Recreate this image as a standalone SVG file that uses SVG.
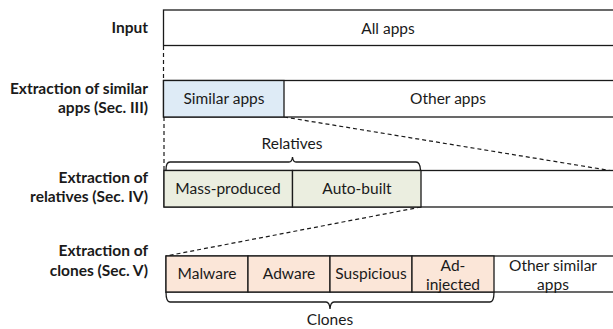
<svg xmlns="http://www.w3.org/2000/svg" width="613" height="329" viewBox="0 0 613 329">
<style>
.box{stroke:#1a1a1a;stroke-width:1.3;fill:#fff}
.blue{fill:#deebf6}
.green{fill:#ebeee0}
.peach{fill:#fbe6d8}
.t{font-family:Lato,"Open Sans",sans-serif;font-size:15.5px;fill:#1a1a1a;text-anchor:middle}
.lbl{font-family:Lato,"Open Sans",sans-serif;font-size:15.5px;font-weight:bold;fill:#1a1a1a;text-anchor:end}
.dash{stroke:#1a1a1a;stroke-width:1.2;stroke-dasharray:4 3;fill:none}
.br{stroke:#1a1a1a;stroke-width:1.3;fill:none}
</style>
<rect width="613" height="329" fill="#fff"/>
<g id="labels">
<text class="lbl" x="148" y="33">Input</text>
<text class="lbl" x="148" y="93.5">Extraction of similar</text>
<text class="lbl" x="148" y="112.5">apps (Sec. III)</text>
<text class="lbl" x="148" y="182.5">Extraction of</text>
<text class="lbl" x="148" y="201.5">relatives (Sec. IV)</text>
<text class="lbl" x="148" y="256">Extraction of</text>
<text class="lbl" x="148" y="275.5">clones (Sec. V)</text>
</g>
<g id="connectors">
<line class="dash" x1="163.5" y1="46" x2="163.5" y2="80"/>
<line class="dash" x1="164" y1="117" x2="164" y2="170"/>
<line class="dash" x1="284" y1="117" x2="613" y2="171"/>
<line class="dash" x1="421" y1="207" x2="166" y2="256"/>
</g>
<g id="all-apps">
<rect class="box" x="163.5" y="10" width="460" height="35.5"/>
<text class="t" x="388" y="34">All apps</text>
</g>
<g id="row-similar">
<rect class="box" x="163.5" y="80.5" width="460" height="36.5"/>
<g id="similar-apps">
<rect class="box blue" x="163.5" y="80.5" width="120.5" height="36.5"/>
<text class="t" x="224" y="104">Similar apps</text>
</g>
<g id="other-apps">
<text class="t" x="448" y="104">Other apps</text>
</g>
</g>
<g id="row-relatives">
<rect class="box" x="164" y="170.5" width="460" height="36.5"/>
<g id="mass-produced">
<rect class="box green" x="164" y="170.5" width="128.5" height="36.5"/>
<text class="t" x="228" y="194">Mass-produced</text>
</g>
<g id="auto-built">
<rect class="box green" x="292.5" y="170.5" width="128.5" height="36.5"/>
<text class="t" x="357" y="194">Auto-built</text>
</g>
<g id="relatives">
<path class="br" d="M166,170 Q166,162 170,162 L289,162 Q292,162 292.5,157 Q293,162 296,162 L416,162 Q420,162 420.5,170"/>
<text class="t" x="292" y="149">Relatives</text>
</g>
</g>
<g id="row-clones">
<rect class="box" x="166" y="256" width="460" height="36"/>
<g id="malware">
<rect class="box peach" x="166" y="256" width="82" height="36"/>
<text class="t" x="207" y="279">Malware</text>
</g>
<g id="adware">
<rect class="box peach" x="248" y="256" width="82" height="36"/>
<text class="t" x="289" y="279">Adware</text>
</g>
<g id="suspicious">
<rect class="box peach" x="330" y="256" width="82" height="36"/>
<text class="t" x="371" y="279">Suspicious</text>
</g>
<g id="ad-injected">
<rect class="box peach" x="412" y="256" width="82" height="36"/>
<text class="t" x="453" y="271">Ad-</text>
<text class="t" x="453" y="290">injected</text>
</g>
<g id="other-similar">
<text class="t" x="553" y="271">Other similar</text>
<text class="t" x="553" y="290">apps</text>
</g>
<g id="clones">
<path class="br" d="M166,292 Q166,302 170,302 L326,302 Q329.5,302 330,309 Q330.5,302 334,302 L490,302 Q494,302 494,292"/>
<text class="t" x="330" y="325">Clones</text>
</g>
</g>
</svg>
